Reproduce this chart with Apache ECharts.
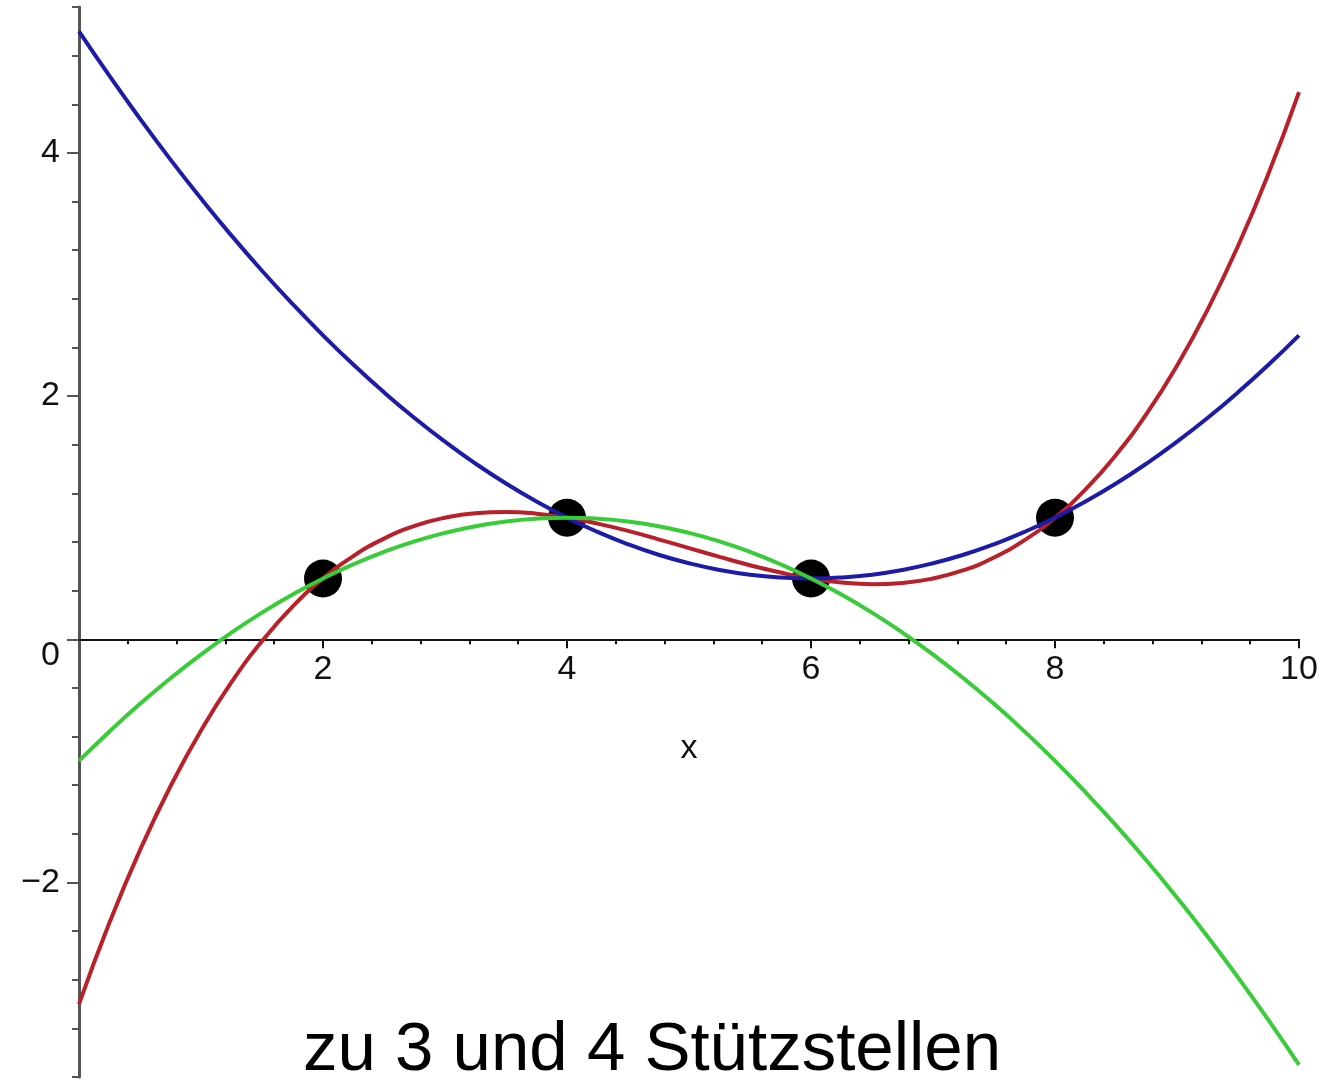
<!DOCTYPE html>
<html>
<head>
<meta charset="utf-8">
<script src="https://cdn.jsdelivr.net/npm/echarts@6/dist/echarts.min.js"></script>
<style>html,body{margin:0;padding:0;background:#fff;}#c{width:1322px;height:1085px;}</style>
</head>
<body>
<div id="c"></div>
<script>
// sample x positions
var xs = [0,0.25,0.5,0.75,1,1.25,1.5,1.75,2,2.25,2.5,2.75,3,3.25,3.5,3.75,4,4.25,4.5,4.75,5,
          5.25,5.5,5.75,6,6.25,6.5,6.75,7,7.25,7.5,7.75,8,8.25,8.5,8.75,9,9.25,9.5,9.75,10];
// blue curve (through nodes at 4, 6, 8)
var blueY = [5,4.633,4.281,3.945,3.625,3.320,3.031,2.758,2.5,2.258,2.031,1.820,1.625,1.445,1.281,1.133,1,0.883,0.781,0.695,0.625,
             0.570,0.531,0.508,0.5,0.508,0.531,0.570,0.625,0.695,0.781,0.883,1,1.133,1.281,1.445,1.625,1.820,2.031,2.258,2.5];
// red curve (through all four nodes)
var redY = [-3,-2.330,-1.734,-1.209,-0.75,-0.353,-0.016,0.268,0.5,0.685,0.828,0.932,1.0,1.037,1.047,1.033,1.0,0.951,0.891,0.822,0.75,
            0.678,0.609,0.549,0.5,0.467,0.453,0.463,0.5,0.568,0.672,0.815,1.0,1.232,1.516,1.853,2.25,2.709,3.234,3.830,4.5];
// green curve (through nodes at 2, 4, 6)
var greenY = [-1,-0.758,-0.531,-0.320,-0.125,0.055,0.219,0.367,0.5,0.617,0.719,0.805,0.875,0.930,0.969,0.992,1,0.992,0.969,0.930,0.875,
              0.805,0.719,0.617,0.5,0.367,0.219,0.055,-0.125,-0.320,-0.531,-0.758,-1,-1.258,-1.531,-1.820,-2.125,-2.445,-2.781,-3.133,-3.5];
// support points
var nodeX = [2,4,6,8];
var nodeY = [0.5,1,0.5,1];
// ticks
var xMajor = [2,4,6,8,10];
var xMinor = [0.4,0.8,1.2,1.6,2.4,2.8,3.2,3.6,4.4,4.8,5.2,5.6,6.4,6.8,7.2,7.6,8.4,8.8,9.2,9.6];
var yMajor = [-2,0,2,4];
var yMinor = [-3.6,-3.2,-2.8,-2.4,-1.6,-1.2,-0.8,-0.4,0.4,0.8,1.2,1.6,2.4,2.8,3.2,3.6,4.4,4.8,5.2];
var titleText = 'zu 3 und 4 Stützstellen';
var xName = 'x';

function pairs(ys){ return xs.map(function(x,i){ return [x, ys[i]]; }); }

var FONT = 'Liberation Sans, Arial, sans-serif';
var Y_MIN = -3.6, Y_MAX = 5.2;
var GT = 7, GB = 8, H = 1085;
var zeroPx = GT + (Y_MAX / (Y_MAX - Y_MIN)) * (H - GT - GB);

var chart = echarts.init(document.getElementById('c'));
chart.setOption({
  animation: false,
  backgroundColor: '#fff',
  title: {
    text: titleText,
    left: 303, top: 1016, padding: 0,
    textStyle: { fontFamily: FONT, fontSize: 69, fontWeight: 'normal', color: '#000' }
  },
  grid: [
    { left: 79, right: 23, top: GT, bottom: GB, outerBoundsMode: 'none', containLabel: false },
    { left: 79, right: 23, top: zeroPx - 1, height: 1, outerBoundsMode: 'none', containLabel: false }
  ],
  xAxis: [{
    gridIndex: 0, type: 'value', min: 0, max: 10, show: false
  }, {
    gridIndex: 1, type: 'value', min: 0, max: 10, position: 'bottom',
    axisLine: { show: true, onZero: false, lineStyle: { color: '#111', width: 2 } },
    axisTick: { show: true, customValues: xMajor, length: 9, lineStyle: { color: '#111', width: 2 } },
    axisLabel: { show: true, customValues: xMajor, margin: 13, fontFamily: FONT, fontSize: 34, color: '#111' },
    splitLine: { show: false },
    name: xName, nameLocation: 'middle', nameGap: 92,
    nameTextStyle: { fontFamily: FONT, fontSize: 34, color: '#111' }
  }, {
    gridIndex: 1, type: 'value', min: 0, max: 10, position: 'bottom',
    axisLine: { show: false, onZero: false },
    axisTick: { show: true, customValues: xMinor, length: 5, lineStyle: { color: '#111', width: 2 } },
    axisLabel: { show: false },
    splitLine: { show: false }
  }],
  yAxis: [{
    gridIndex: 0, type: 'value', min: Y_MIN, max: Y_MAX, position: 'left',
    axisLine: { show: true, onZero: false, lineStyle: { color: '#555', width: 3 } },
    axisTick: { show: true, customValues: yMajor, length: 12, lineStyle: { color: '#555', width: 2 } },
    axisLabel: {
      show: true, customValues: yMajor, margin: 19, fontFamily: FONT, fontSize: 34, color: '#111',
      formatter: function(v){
        if (Math.abs(v) < 1e-9) return '{z|0}';
        return v < 0 ? '\u2212' + Math.abs(v) : String(v);
      },
      rich: { z: { fontFamily: FONT, fontSize: 34, color: '#111', padding: [32, 0, 0, 0] } }
    },
    splitLine: { show: false }
  }, {
    gridIndex: 0, type: 'value', min: Y_MIN, max: Y_MAX, position: 'left',
    axisLine: { show: false, onZero: false },
    axisTick: { show: true, customValues: yMinor, length: 7, lineStyle: { color: '#555', width: 2 } },
    axisLabel: { show: false },
    splitLine: { show: false }
  }, {
    gridIndex: 1, type: 'value', min: 0, max: 1, show: false
  }],
  series: [{
    type: 'scatter', xAxisIndex: 0, yAxisIndex: 0,
    data: nodeX.map(function(x,i){ return [x, nodeY[i]]; }),
    symbol: 'circle', symbolSize: 38, itemStyle: { color: '#000', opacity: 1 }, z: 1
  }, {
    type: 'line', xAxisIndex: 0, yAxisIndex: 0, data: pairs(redY), smooth: true, showSymbol: false, symbol: 'none',
    lineStyle: { color: '#b8202a', width: 4 }, z: 2
  }, {
    type: 'line', xAxisIndex: 0, yAxisIndex: 0, data: pairs(blueY), smooth: true, showSymbol: false, symbol: 'none',
    lineStyle: { color: '#1c1ca8', width: 4 }, z: 3
  }, {
    type: 'line', xAxisIndex: 0, yAxisIndex: 0, data: pairs(greenY), smooth: true, showSymbol: false, symbol: 'none',
    lineStyle: { color: '#38cc38', width: 4 }, z: 4
  }]
});
</script>
</body>
</html>
